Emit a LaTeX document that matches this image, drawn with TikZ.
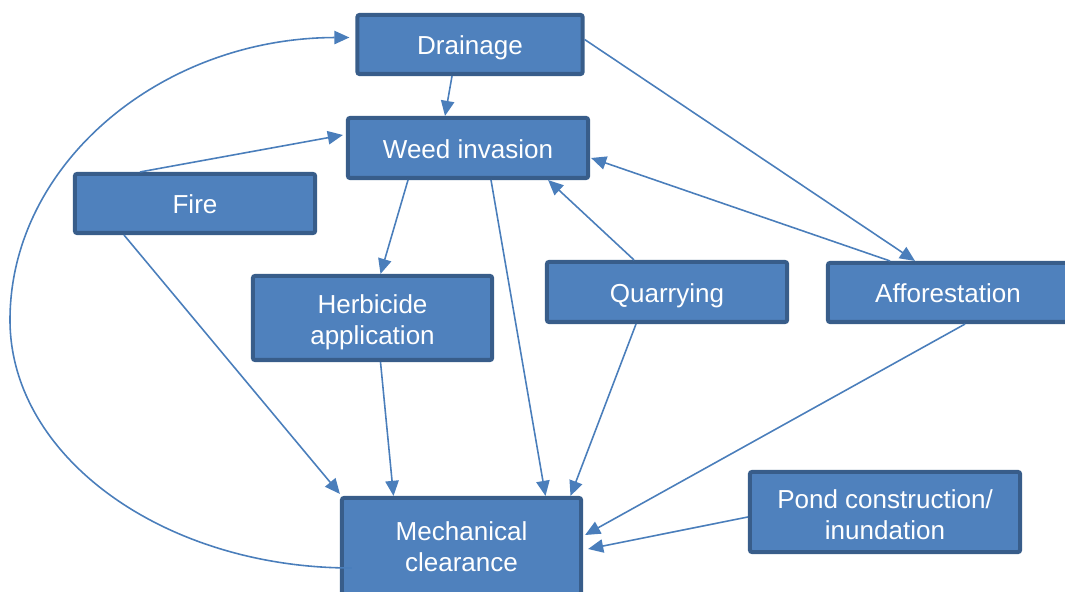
\documentclass[tikz,border=0pt]{standalone}
\usepackage{fontspec}
\setmainfont{Liberation Sans}
\usetikzlibrary{arrows.meta}
\definecolor{boxfill}{HTML}{4F81BD}
\definecolor{boxline}{HTML}{385D8A}
\definecolor{arrline}{HTML}{4A7EBB}
\tikzset{
    box/.style={draw=boxline,fill=boxfill,line width=1.15pt,rounded corners=0.6pt,text=white,
        align=center,inner sep=0pt,minimum width=2.40cm,minimum height=0.59cm,
        font=\fontsize{7.4}{8.8}\selectfont},
    oneline/.style={text height=0.79em,text depth=0.21em},
    arr/.style={draw=arrline,line width=0.45pt,-{Triangle[length=4.3pt,width=3.8pt]}}
}
\begin{document}
\begin{tikzpicture}[x=0.01cm,y=-0.01cm]
        \useasboundingbox (0,0) rectangle (1065,592);
        \node[box,oneline,minimum width=2.25cm] (drain) at (470,44.5) {Drainage};
        \node[box,oneline,minimum height=0.60cm] (weed) at (468,148) {Weed invasion};
        \node[box,oneline] (fire) at (195,203.5) {Fire};
        \node[box,minimum width=2.39cm,minimum height=0.84cm,text height=16.8pt] (herb) at (372.5,318) {Herbicide\\application};
        \node[box,oneline,minimum height=0.60cm] (quarry) at (667,292) {Quarrying};
        \node[box,oneline] (affor) at (948,292.5) {Afforestation};
        \node[box,minimum width=2.39cm,minimum height=0.96cm,text height=14.6pt] (mech) at (461.5,546) {Mechanical\\clearance};
        \node[box,minimum width=2.70cm,minimum height=0.80cm,text height=15.6pt] (pond) at (885,512) {Pond construction/\\inundation};
        % connectors
        \draw[arr] ([shift={(-18,0)}]drain.south) -- ([shift={(-23,0)}]weed.north);
        \draw[arr] ([shift={(0,-5)}]drain.east) -- ([shift={(-33,0)}]affor.north);
        \draw[arr] ([shift={(12,22)}]mech.west) .. controls (164,568) and (10,457) .. (10,320)
            .. controls (10,164) and (161,38) .. ([shift={(-6,-7)}]drain.west);
        \draw[arr] ([shift={(-55,0)}]fire.north) -- ([shift={(-3,-13)}]weed.west);
        \draw[arr] ([shift={(-71,0)}]fire.south) -- ([shift={(0,-2)}]mech.north west);
        \draw[arr] ([shift={(-60,0)}]weed.south) -- ([shift={(8,0)}]herb.north);
        \draw[arr] ([shift={(23,0)}]weed.south) -- ([shift={(84,0)}]mech.north);
        \draw[arr] ([shift={(-33,0)}]quarry.north) -- ([shift={(-42,0)}]weed.south east);
        \draw[arr] ([shift={(-58,0)}]affor.north) -- ([shift={(1,10)}]weed.east);
        \draw[arr] ([shift={(8,0)}]herb.south) -- ([shift={(-68,0)}]mech.north);
        \draw[arr] ([shift={(-31,0)}]quarry.south) -- ([shift={(109,0)}]mech.north);
        \draw[arr] ([shift={(17,0)}]affor.south) -- ([shift={(2,-11)}]mech.east);
        \draw[arr] ([shift={(0,5)}]pond.west) -- ([shift={(5,3)}]mech.east);
    \end{tikzpicture}
\end{document}
